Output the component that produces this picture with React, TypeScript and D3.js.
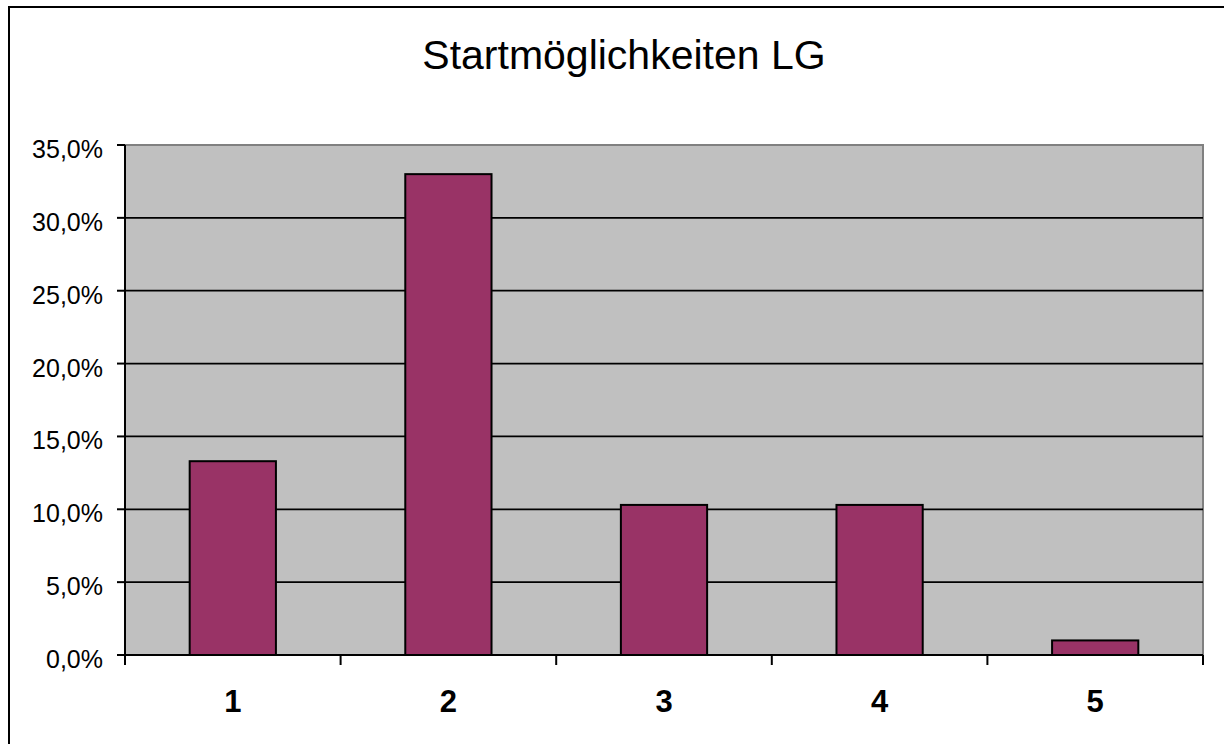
import * as d3 from "d3";
import React, { useEffect, useRef } from "react";

const categories: string[] = ["1", "2", "3", "4", "5"];
const shares: number[] = [0.133, 0.33, 0.103, 0.103, 0.01];
const yTicks: number[] = [0, 0.05, 0.1, 0.15, 0.2, 0.25, 0.3, 0.35];
const chartTitle = "Startmöglichkeiten LG";

const W = 1224;
const H = 744;
const plot = { left: 125, right: 1203, top: 145, bottom: 655 };

const App: React.FC = () => {
    const svgRef = useRef<SVGSVGElement>(null);

    useEffect(() => {
        const svg = d3.select(svgRef.current);
        svg.selectAll("*").remove();

        const x = d3.scaleBand<string>()
            .domain(categories)
            .range([plot.left, plot.right])
            .padding(0);

        const y = d3.scaleLinear()
            .domain([0, 0.35])
            .range([plot.bottom, plot.top]);

        // outer chart frame (only left/top visible in the picture)
        svg.append("rect")
            .attr("x", 9)
            .attr("y", 7)
            .attr("width", W + 100)
            .attr("height", H + 100)
            .attr("fill", "white")
            .attr("stroke", "black")
            .attr("stroke-width", 2);

        svg.append("text")
            .attr("x", 624)
            .attr("y", 69)
            .attr("text-anchor", "middle")
            .attr("font-family", "Liberation Sans, Arial, sans-serif")
            .attr("font-size", 41)
            .text(chartTitle);

        // plot area
        svg.append("rect")
            .attr("x", plot.left)
            .attr("y", plot.top)
            .attr("width", plot.right - plot.left)
            .attr("height", plot.bottom - plot.top)
            .attr("fill", "#c0c0c0")
            .attr("stroke", "#808080")
            .attr("stroke-width", 2);

        // gridlines
        svg.append("g")
            .selectAll("line")
            .data(yTicks.filter(t => t > 0 && t < 0.35))
            .enter()
            .append("line")
            .attr("x1", plot.left)
            .attr("x2", plot.right)
            .attr("y1", d => y(d))
            .attr("y2", d => y(d))
            .attr("stroke", "black")
            .attr("stroke-width", 1.8);

        // bars
        const bw = x.bandwidth() * 0.4;
        svg.append("g")
            .selectAll("rect")
            .data(shares)
            .enter()
            .append("rect")
            .attr("x", (_, i) => (x(categories[i]) as number) + (x.bandwidth() - bw) / 2)
            .attr("y", d => y(d))
            .attr("width", bw)
            .attr("height", d => plot.bottom - y(d))
            .attr("fill", "#993366")
            .attr("stroke", "black")
            .attr("stroke-width", 2);

        // y axis
        const yAxis = svg.append("g");
        yAxis.append("line")
            .attr("x1", plot.left).attr("x2", plot.left)
            .attr("y1", plot.top).attr("y2", plot.bottom + 10)
            .attr("stroke", "black").attr("stroke-width", 2);
        yAxis.selectAll("line.tick")
            .data(yTicks)
            .enter()
            .append("line")
            .attr("class", "tick")
            .attr("x1", plot.left - 8).attr("x2", plot.left)
            .attr("y1", d => y(d)).attr("y2", d => y(d))
            .attr("stroke", "black").attr("stroke-width", 2);
        yAxis.selectAll("text")
            .data(yTicks)
            .enter()
            .append("text")
            .attr("x", 103)
            .attr("y", d => y(d) + 13)
            .attr("text-anchor", "end")
            .attr("font-family", "Liberation Sans, Arial, sans-serif")
            .attr("font-size", 25)
            .text(d => d3.format(".1f")(d * 100).replace(".", ",") + "%");

        // x axis
        const xAxis = svg.append("g");
        xAxis.append("line")
            .attr("x1", plot.left).attr("x2", plot.right)
            .attr("y1", plot.bottom).attr("y2", plot.bottom)
            .attr("stroke", "black").attr("stroke-width", 2);
        const bounds = categories.map(c => x(c) as number).concat([plot.right]);
        xAxis.selectAll("line.tick")
            .data(bounds)
            .enter()
            .append("line")
            .attr("class", "tick")
            .attr("x1", d => d).attr("x2", d => d)
            .attr("y1", plot.bottom).attr("y2", plot.bottom + 10)
            .attr("stroke", "black").attr("stroke-width", 2);
        xAxis.selectAll("text")
            .data(categories)
            .enter()
            .append("text")
            .attr("x", d => (x(d) as number) + x.bandwidth() / 2)
            .attr("y", 712)
            .attr("text-anchor", "middle")
            .attr("font-family", "Liberation Sans, Arial, sans-serif")
            .attr("font-size", 31)
            .attr("font-weight", "bold")
            .text(d => d);
    }, []);

    return (
        <svg
            ref={svgRef}
            width={W}
            height={H}
            style={{ position: "absolute", top: 0, left: 0, background: "white" }}
        />
    );
};

export default App;
